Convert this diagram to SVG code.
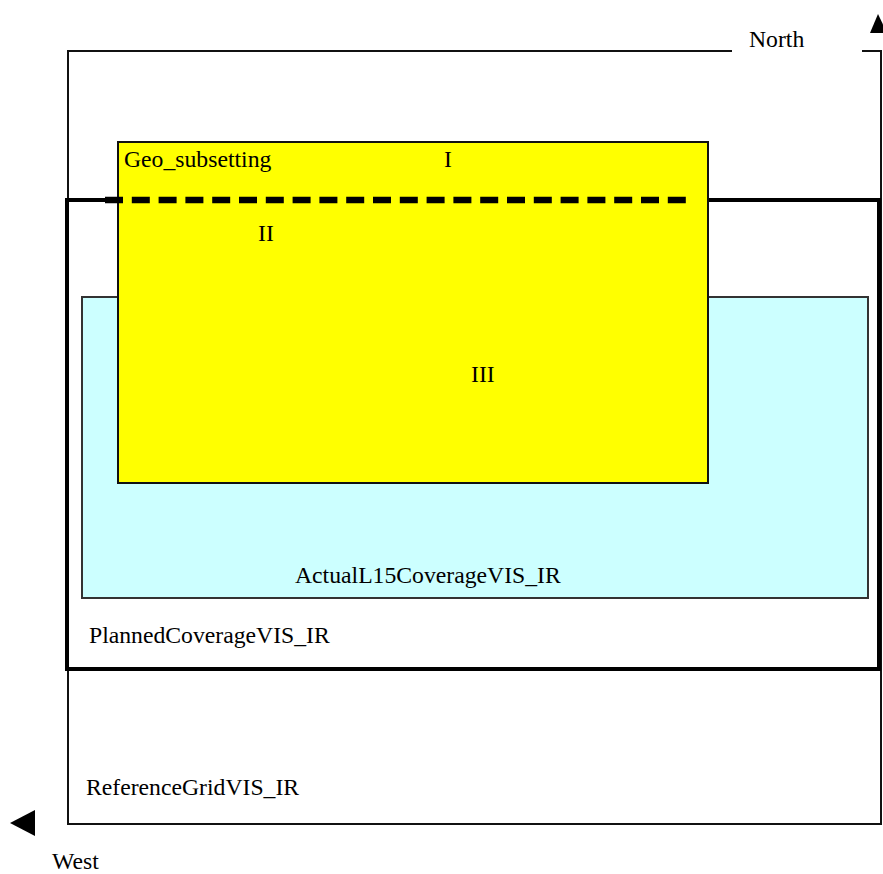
<svg xmlns="http://www.w3.org/2000/svg" width="883" height="874" viewBox="0 0 883 874">
  <style>
    text { font-family: "Liberation Serif", "Times New Roman", serif; font-size: 23.7px; fill: #000; }
    .thin { fill: none; stroke: #111; stroke-width: 2; }
    .thick { fill: none; stroke: #000; stroke-width: 4; }
    .arrow { fill: #000; stroke: none; }
  </style>
  <rect width="883" height="874" fill="#fff"/>

  <!-- Reference grid frame, top edge broken for the North label -->
  <g id="reference-grid">
    <path class="thin" d="M732,51 H68 V824 H881 V51 H862"/>
    <text x="86" y="795">ReferenceGridVIS_IR</text>
  </g>

  <!-- Planned coverage -->
  <g id="planned-coverage">
    <rect class="thick" x="67" y="200" width="812" height="469"/>
    <text x="89" y="643">PlannedCoverageVIS_IR</text>
  </g>

  <!-- Actual L1.5 coverage -->
  <g id="actual-coverage">
    <rect x="82" y="297" width="786" height="301" fill="#ccffff" stroke="#333" stroke-width="2"/>
    <text x="295" y="583">ActualL15CoverageVIS_IR</text>
  </g>

  <!-- Geo subsetting area -->
  <g id="geo-subsetting">
    <rect x="118" y="142" width="590" height="341" fill="#ffff00" stroke="#111" stroke-width="2"/>
    <text x="124" y="167">Geo_subsetting</text>
    <text x="444" y="167">I</text>
    <text x="258" y="241">II</text>
    <text x="471" y="382">III</text>
  </g>

  <!-- Dashed boundary across the subsetting area -->
  <g id="connectors">
    <line x1="105" y1="200" x2="686" y2="200" stroke="#000" stroke-width="6.5" stroke-dasharray="18 8.8"/>
  </g>

  <!-- Compass arrows -->
  <g id="north">
    <polygon class="arrow" points="878,14 870,33 887,33"/>
    <text x="749" y="47">North</text>
  </g>
  <g id="west">
    <polygon class="arrow" points="10,823 35,810 35,836"/>
    <text x="52" y="869">West</text>
  </g>
</svg>
